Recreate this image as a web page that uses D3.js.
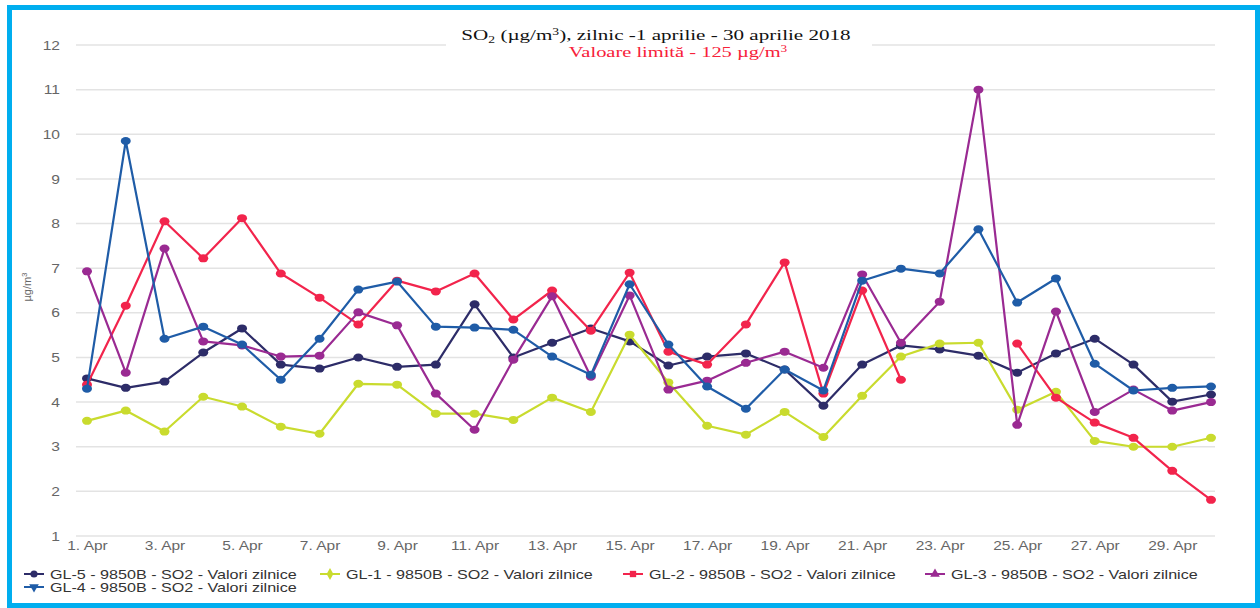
<!DOCTYPE html>
<html>
<head>
<meta charset="utf-8">
<script src="https://cdn.jsdelivr.net/npm/d3@7"></script>
<style>
  html, body { margin: 0; padding: 0; background: #fff; }
  svg { display: block; }
</style>
</head>
<body>
<svg id="chart" width="1260" height="608"></svg>
<script>
// days of April 2018
const days = d3.range(1, 31);
const tickDays = [1, 3, 5, 7, 9, 11, 13, 15, 17, 19, 21, 23, 25, 27, 29];
const yTicks = [1, 2, 3, 4, 5, 6, 7, 8, 9, 10, 11, 12];

// daily SO2 values (ug/m3)
const gl5 = [4.53, 4.32, 4.46, 5.11, 5.65, 4.84, 4.75, 5.00, 4.79, 4.84,
             6.19, 5.00, 5.33, 5.65, 5.36, 4.82, 5.02, 5.09, 4.73, 3.92,
             4.84, 5.27, 5.18, 5.04, 4.66, 5.09, 5.42, 4.84, 4.01, 4.17];
const gl1 = [3.58, 3.81, 3.34, 4.12, 3.90, 3.45, 3.29, 4.41, 4.39, 3.74,
             3.74, 3.60, 4.10, 3.78, 5.51, 4.44, 3.47, 3.27, 3.78, 3.22,
             4.14, 5.02, 5.31, 5.33, 3.83, 4.23, 3.13, 3.00, 3.00, 3.20];
const gl2 = [4.39, 6.16, 8.05, 7.22, 8.12, 6.88, 6.34, 5.74, 6.72, 6.48,
             6.88, 5.85, 6.50, 5.60, 6.90, 5.13, 4.84, 5.74, 7.13, 4.19,
             6.50, 4.50, null, null, 5.31, 4.10, 3.54, 3.20, 2.46, 1.81];
const gl3 = [6.93, 4.66, 7.44, 5.36, 5.27, 5.02, 5.04, 6.01, 5.72, 4.19,
             3.38, 4.95, 6.37, 4.57, 6.39, 4.28, 4.48, 4.88, 5.13, 4.77,
             6.86, 5.33, 6.25, 11.00, 3.49, 6.03, 3.78, 4.28, 3.81, 4.00];
const gl4 = [4.30, 9.85, 5.42, 5.69, 5.29, 4.50, 5.42, 6.52, 6.70, 5.69,
             5.67, 5.62, 5.02, 4.61, 6.64, 5.29, 4.35, 3.85, 4.73, 4.26,
             6.72, 6.99, 6.88, 7.87, 6.23, 6.77, 4.86, 4.26, 4.32, 4.35];

const seriesNames = [
  "GL-5 - 9850B - SO2 - Valori zilnice",
  "GL-1 - 9850B - SO2 - Valori zilnice",
  "GL-2 - 9850B - SO2 - Valori zilnice",
  "GL-3 - 9850B - SO2 - Valori zilnice",
  "GL-4 - 9850B - SO2 - Valori zilnice"
];
const seriesColors = ["#2d2c68", "#c9db2e", "#f2244c", "#9a2a92", "#1f5ca7"];
const seriesSymbols = [d3.symbolCircle, d3.symbolDiamond, d3.symbolSquare, d3.symbolTriangle, d3.symbolTriangle];

const series = [gl5, gl1, gl2, gl3, gl4].map((vals, i) => ({
  name: seriesNames[i],
  color: seriesColors[i],
  symbol: seriesSymbols[i],
  flip: i === 4,
  values: vals.map((v, j) => ({ day: days[j], v: v }))
}));

const svg = d3.select('#chart');
const sans = 'Liberation Sans, Arial, sans-serif';
const serif = 'Liberation Serif, Times New Roman, serif';

const x = d3.scaleLinear().domain([1, 30]).range([87, 1211]);
const y = d3.scaleLinear().domain([1, 12]).range([536, 45]);
const gridLeft = 76, gridRight = 1215;

// frame
svg.append('rect')
  .attr('x', 9.5).attr('y', 7.5)
  .attr('width', 1248).attr('height', 598)
  .attr('fill', 'none')
  .attr('stroke', '#00aeef')
  .attr('stroke-width', 5);

// horizontal grid
svg.append('g')
  .selectAll('line')
  .data(yTicks)
  .join('line')
  .attr('x1', gridLeft).attr('x2', gridRight)
  .attr('y1', d => y(d)).attr('y2', d => y(d))
  .attr('stroke', '#e3e3e3')
  .attr('stroke-width', 1.5);

// y axis labels (picture is stretched sideways, so text is too)
const yAxis = d3.axisLeft(y).tickValues(yTicks).tickSize(0).tickPadding(0);
svg.append('g')
  .attr('transform', 'translate(60,0)')
  .call(yAxis)
  .call(g => g.select('.domain').remove())
  .selectAll('text')
  .attr('x', 0)
  .attr('transform', 'scale(1.2,1)')
  .attr('fill', '#666')
  .style('font-family', sans)
  .style('font-size', '13px');

svg.append('text')
  .attr('transform', 'translate(31,287) rotate(-90)')
  .attr('text-anchor', 'middle')
  .attr('fill', '#666')
  .style('font-family', sans)
  .style('font-size', '11px')
  .html('µg/m<tspan dy="-4" font-size="8px">3</tspan>');

// x axis labels
const xAxis = d3.axisBottom(x).tickValues(tickDays).tickSize(0).tickPadding(0)
  .tickFormat(d => d + '. Apr');
svg.append('g')
  .attr('transform', 'translate(0,541)')
  .call(xAxis)
  .call(g => g.select('.domain').remove())
  .selectAll('text')
  .attr('transform', 'scale(1.24,1)')
  .attr('fill', '#666')
  .style('font-family', sans)
  .style('font-size', '12.5px');

// lines
const line = d3.line()
  .defined(d => d.v !== null)
  .x(d => x(d.day))
  .y(d => y(d.v));

const sg = svg.append('g')
  .selectAll('g')
  .data(series)
  .join('g');

sg.append('path')
  .attr('d', d => line(d.values))
  .attr('fill', 'none')
  .attr('stroke', d => d.color)
  .attr('stroke-width', 2.2)
  .attr('stroke-linejoin', 'round');

sg.each(function (s) {
  d3.select(this).selectAll('ellipse')
    .data(s.values.filter(d => d.v !== null))
    .join('ellipse')
    .attr('cx', d => x(d.day))
    .attr('cy', d => y(d.v))
    .attr('rx', 5)
    .attr('ry', 4)
    .attr('fill', s.color);
});

// title
svg.append('rect')
  .attr('x', 446).attr('y', 24)
  .attr('width', 426).attr('height', 22)
  .attr('fill', '#fff');

svg.append('text')
  .attr('transform', 'translate(656,40) scale(1.36,1)')
  .attr('text-anchor', 'middle')
  .attr('fill', '#111')
  .style('font-family', serif)
  .style('font-size', '15.5px')
  .html('SO<tspan dy="3" font-size="10px">2</tspan><tspan dy="-3"> (µg/m</tspan><tspan dy="-5" font-size="10px">3</tspan><tspan dy="5">), zilnic -1 aprilie - 30 aprilie 2018</tspan>');

svg.append('text')
  .attr('transform', 'translate(678,57) scale(1.32,1)')
  .attr('text-anchor', 'middle')
  .attr('fill', '#f7213a')
  .style('font-family', serif)
  .style('font-size', '15.5px')
  .html('Valoare limită - 125 µg/m<tspan dy="-5" font-size="10px">3</tspan>');

// legend
const legendPos = [[24, 574], [320, 574], [623, 574], [925, 574], [24, 587]];
const lg = svg.append('g')
  .selectAll('g')
  .data(series)
  .join('g')
  .attr('transform', (d, i) => `translate(${legendPos[i][0]},${legendPos[i][1]})`);

lg.append('line')
  .attr('x1', 0).attr('x2', 20)
  .attr('stroke', d => d.color)
  .attr('stroke-width', 2);

lg.append('path')
  .attr('transform', d => `translate(10,0)${d.flip ? ' rotate(180)' : ''}`)
  .attr('d', d => d3.symbol().type(d.symbol).size(40)())
  .attr('fill', d => d.color);

lg.append('text')
  .attr('transform', 'translate(26,4.5) scale(1.29,1)')
  .attr('fill', '#333')
  .style('font-family', sans)
  .style('font-size', '12.5px')
  .text(d => d.name);
</script>
</body>
</html>
